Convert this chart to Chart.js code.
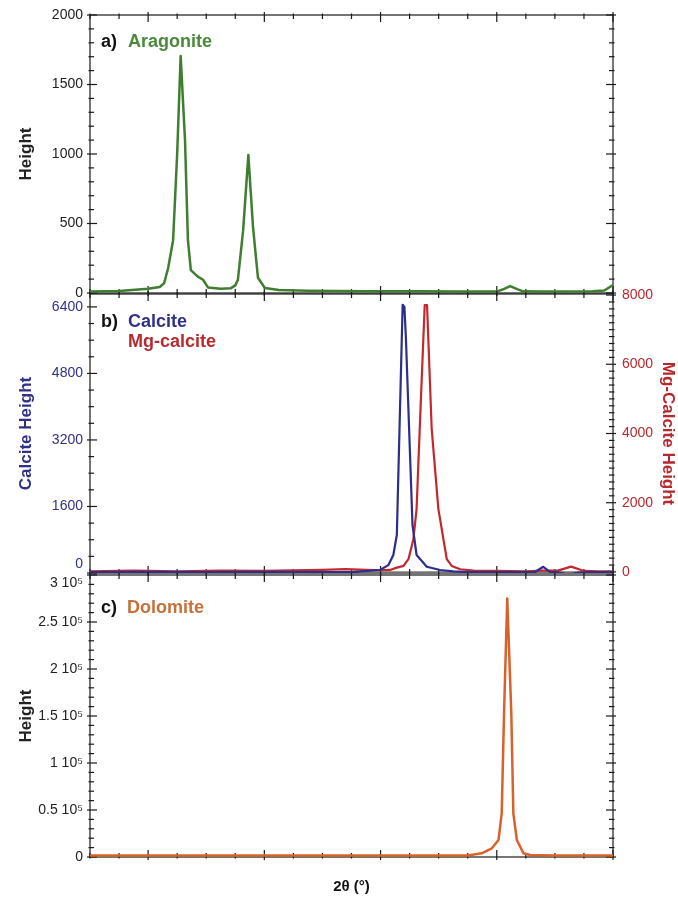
<!DOCTYPE html>
<html lang="en">
<head>
<meta charset="UTF-8">
<title>XRD peaks: aragonite, calcite, dolomite</title>
<script src="https://cdn.jsdelivr.net/npm/chart.js"></script>
<style>
  body { margin: 0; background: #fff; }
  #wrap { position: relative; width: 678px; height: 905px; }
  .panel { position: absolute; left: 0; width: 678px; }
</style>
</head>
<body>
<div id="wrap">
  <div class="panel" style="top:0;height:310px"><canvas id="chartA"></canvas></div>
  <div class="panel" style="top:280px;height:304px"><canvas id="chartB"></canvas></div>
  <div class="panel" style="top:566px;height:339px"><canvas id="chartC"></canvas></div>
</div>
<script>
// x position in minor-tick units (no numeric labels on the original axis)
const xMajorTicks = [2, 6, 10, 14, 18];

// a) Aragonite
const aragoniteX = [0, 1, 2, 2.4, 2.55, 2.69, 2.86, 3.0, 3.12, 3.27, 3.37, 3.47, 3.7, 3.89, 4.06, 4.5, 4.85, 5.0, 5.09, 5.27, 5.45, 5.61, 5.78, 6.02, 6.5, 7.5, 8.5, 9.5, 10.5, 11.5, 12.5, 13.5, 14.0, 14.2, 14.46, 14.7, 14.9, 15.5, 16.5, 17.3, 17.7, 18];
const aragoniteY = [10, 15, 30, 43, 70, 180, 380, 1000, 1705, 1100, 380, 165, 120, 95, 40, 30, 35, 55, 95, 450, 993, 475, 110, 36, 22, 16, 14, 12, 12, 12, 10, 10, 10, 25, 50, 28, 12, 10, 10, 12, 18, 58];
const aragoniteTicks = [0, 500, 1000, 1500, 2000];

// b) Calcite (left axis) and Mg-calcite (right axis)
const calciteX = [0, 2, 4, 6, 8, 9, 9.98, 10.27, 10.44, 10.56, 10.66, 10.76, 10.82, 10.87, 11.1, 11.24, 11.59, 12.05, 12.5, 13, 14, 15, 15.32, 15.6, 15.83, 16.1, 16.35, 16.56, 16.8, 17.2, 18];
const calciteY = [20, 25, 20, 25, 20, 20, 72, 190, 433, 914, 3680, 6450, 6400, 5700, 1150, 433, 150, 72, 40, 20, 20, 20, 25, 150, 25, 15, -20, -24, 10, 20, 20];
const mgCalciteX = [0, 1.5, 3, 4.5, 6, 7, 8, 8.8, 9.5, 10.0, 10.33, 10.56, 10.79, 10.96, 11.13, 11.24, 11.38, 11.52, 11.6, 11.76, 11.99, 12.28, 12.45, 12.74, 13.2, 14, 15, 15.6, 16.1, 16.56, 17.0, 17.5, 18];
const mgCalciteY = [20, 40, 20, 40, 30, 50, 60, 80, 60, 50, 58, 125, 174, 368, 948, 1817, 4800, 7710, 7710, 4136, 1817, 368, 174, 78, 40, 30, 20, 40, 40, 155, 30, 20, 20];
const calciteTicks = [0, 1600, 3200, 4800, 6400];
const mgCalciteTicks = [0, 2000, 4000, 6000, 8000];

// c) Dolomite
const dolomiteX = [0, 3, 6, 9, 12, 13, 13.48, 13.83, 14.06, 14.17, 14.25, 14.36, 14.5, 14.57, 14.69, 14.92, 15.15, 16, 18];
const dolomiteY = [1500, 1500, 1500, 1500, 1500, 1600, 3900, 9250, 18100, 46500, 153000, 275000, 153000, 46500, 18100, 3900, 2100, 1500, 1500];
const dolomiteTicks = [0, 50000, 100000, 150000, 200000, 250000, 300000];
const dolomiteTickLabels = ['0', '0.5 10\u2075', '1 10\u2075', '1.5 10\u2075', '2 10\u2075', '2.5 10\u2075', '3 10\u2075'];

const GREEN = '#3f7d2f', BLUE = '#2c2e8c', RED = '#c4282c', ORANGE = '#d8622a';
const FONT = "'Liberation Sans', Arial, sans-serif";
Chart.defaults.font.family = FONT;

function pts(xs, ys) {
  return xs.map((x, i) => ({ x: x, y: ys[i] }));
}

// box round the plot area with IDL-style major/minor ticks on all sides
function edgeTicks(ctx, scale, majors, minorStep, edge, a) {
  const start = Math.ceil(scale.min / minorStep - 1e-9);
  const end = Math.floor(scale.max / minorStep + 1e-9);
  for (let i = start; i <= end; i++) {
    const v = i * minorStep;
    const p = scale.getPixelForValue(v);
    const major = majors.includes(v);
    const inn = major ? 7 : 4, out = major ? 3 : 1.5;
    ctx.beginPath();
    if (edge === 'left') { ctx.moveTo(a.left - out, p); ctx.lineTo(a.left + inn, p); }
    if (edge === 'right') { ctx.moveTo(a.right + out, p); ctx.lineTo(a.right - inn, p); }
    if (edge === 'top') { ctx.moveTo(p, a.top - out); ctx.lineTo(p, a.top + inn); }
    if (edge === 'bottom') { ctx.moveTo(p, a.bottom + out); ctx.lineTo(p, a.bottom - inn); }
    ctx.stroke();
  }
}

const boxTicks = {
  id: 'boxTicks',
  beforeDatasetsDraw(chart, args, opts) {
    const { ctx, chartArea: a, scales } = chart;
    ctx.save();
    ctx.strokeStyle = '#1a1a1a';
    ctx.lineWidth = 1.2;
    ctx.strokeRect(a.left, a.top, a.right - a.left, a.bottom - a.top);
    edgeTicks(ctx, scales.x, xMajorTicks, 1, 'top', a);
    edgeTicks(ctx, scales.x, xMajorTicks, 1, 'bottom', a);
    const y = scales.y;
    const yMaj = y.ticks.map(t => t.value);
    edgeTicks(ctx, y, yMaj, opts.leftMinor, 'left', a);
    if (opts.rightAxis) {
      const r = scales[opts.rightAxis];
      edgeTicks(ctx, r, r.ticks.map(t => t.value), opts.rightMinor, 'right', a);
    } else {
      edgeTicks(ctx, y, yMaj, opts.leftMinor, 'right', a);
    }
    ctx.restore();
  }
};

// "a) Aragonite" style panel captions
const panelLabel = {
  id: 'panelLabel',
  afterDraw(chart, args, opts) {
    const ctx = chart.ctx;
    ctx.save();
    ctx.font = 'bold 18px ' + FONT;
    ctx.textBaseline = 'middle';
    opts.parts.forEach(p => {
      ctx.fillStyle = p.color;
      ctx.fillText(p.text, p.x, p.y);
    });
    ctx.restore();
  }
};

function fixedTicks(list) {
  return axis => { axis.ticks = list.map(v => ({ value: v })); };
}

// fixed axis width, and no extra room asked for the end labels
function fitWidth(w) {
  return axis => {
    axis.width = w;
    axis.paddingTop = 0;
    axis.paddingBottom = 0;
  };
}

function leftAxis(min, max, ticks, title, color, callback) {
  return {
    position: 'left', min: min, max: max,
    afterBuildTicks: fixedTicks(ticks),
    afterFit: fitWidth(90),
    grid: { display: false, drawTicks: false },
    border: { display: false },
    ticks: { color: color, font: { size: 14 }, padding: 7, callback: callback },
    title: { display: true, text: title, color: color, font: { size: 17, weight: 'bold' }, padding: { top: 16 } }
  };
}

const common = {
  responsive: true,
  maintainAspectRatio: false,
  animation: false,
  elements: { point: { radius: 0 }, line: { tension: 0, borderJoinStyle: 'round' } }
};

new Chart(document.getElementById('chartA'), {
  type: 'line',
  data: { datasets: [{ data: pts(aragoniteX, aragoniteY), borderColor: GREEN, borderWidth: 2.5 }] },
  options: {
    ...common,
    layout: { padding: { top: 15, right: 65, bottom: 17, left: 0 } },
    plugins: {
      legend: { display: false }, tooltip: { enabled: false },
      boxTicks: { leftMinor: 100 },
      panelLabel: { parts: [
        { text: 'a)', x: 101, y: 42, color: '#111' },
        { text: 'Aragonite', x: 128, y: 42, color: '#4a8a3a' }
      ] }
    },
    scales: {
      x: { type: 'linear', min: 0, max: 18, display: false },
      y: leftAxis(0, 2000, aragoniteTicks, 'Height', '#222', v => String(v))
    }
  },
  plugins: [boxTicks, panelLabel]
});

new Chart(document.getElementById('chartB'), {
  type: 'line',
  data: { datasets: [
    { label: 'Calcite', data: pts(calciteX, calciteY), borderColor: BLUE, borderWidth: 2.2, yAxisID: 'y' },
    { label: 'Mg-calcite', data: pts(mgCalciteX, mgCalciteY), borderColor: RED, borderWidth: 2.2, yAxisID: 'y2' }
  ] },
  options: {
    ...common,
    layout: { padding: { top: 14, right: 0, bottom: 11, left: 0 } },
    plugins: {
      legend: { display: false }, tooltip: { enabled: false },
      boxTicks: { leftMinor: 400, rightAxis: 'y2', rightMinor: 200 },
      panelLabel: { parts: [
        { text: 'b)', x: 101, y: 42, color: '#111' },
        { text: 'Calcite', x: 128, y: 42, color: '#2f3188' },
        { text: 'Mg-calcite', x: 128, y: 62, color: '#b8292e' }
      ] }
    },
    scales: {
      x: { type: 'linear', min: 0, max: 18, display: false },
      y: leftAxis(0, 6710, calciteTicks, 'Calcite Height', '#2f3188', v => v === 0 ? ['0', ''] : String(v)),
      y2: {
        position: 'right', min: -30, max: 8030,
        afterBuildTicks: fixedTicks(mgCalciteTicks),
        afterFit: fitWidth(65),
        grid: { drawTicks: false, color: c => (c.tick && c.tick.value === 0) ? '#9a9a9a' : 'rgba(0,0,0,0)' },
        border: { display: false },
        ticks: { color: '#b8292e', font: { size: 14 }, padding: 9, callback: v => String(v) },
        title: { display: true, text: 'Mg-Calcite Height', color: '#b8292e', font: { size: 17, weight: 'bold' }, padding: { top: 0 } }
      }
    }
  },
  plugins: [boxTicks, panelLabel]
});

new Chart(document.getElementById('chartC'), {
  type: 'line',
  data: { datasets: [{ data: pts(dolomiteX, dolomiteY), borderColor: ORANGE, borderWidth: 2.5 }] },
  options: {
    ...common,
    layout: { padding: { top: 9, right: 65, bottom: 0, left: 0 } },
    plugins: {
      legend: { display: false }, tooltip: { enabled: false },
      boxTicks: { leftMinor: 10000 },
      panelLabel: { parts: [
        { text: 'c)', x: 101, y: 42, color: '#111' },
        { text: 'Dolomite', x: 127, y: 42, color: '#c8703a' }
      ] }
    },
    scales: {
      x: {
        type: 'linear', min: 0, max: 18,
        afterFit: axis => { axis.height = 48; },
        grid: { display: false, drawTicks: false },
        border: { display: false },
        ticks: { display: false },
        title: { display: true, text: '2\u03b8 (\u00b0)', color: '#111', font: { size: 15, weight: 'bold' }, padding: { top: 0, bottom: 9 } }
      },
      y: leftAxis(0, 300000, dolomiteTicks, 'Height', '#222', (v, i) => i === dolomiteTicks.length - 1 ? ['', dolomiteTickLabels[i]] : dolomiteTickLabels[i])
    }
  },
  plugins: [boxTicks, panelLabel]
});
</script>
</body>
</html>
